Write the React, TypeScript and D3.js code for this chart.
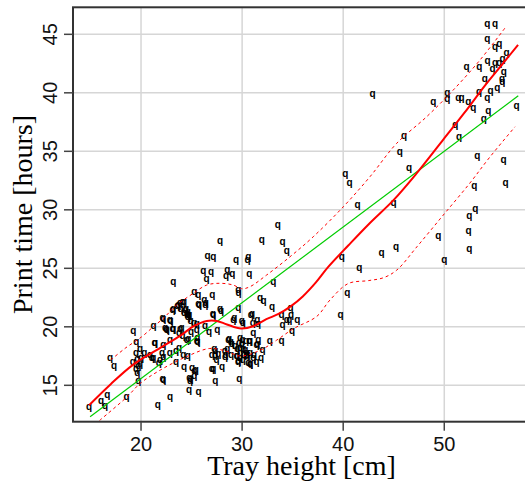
import { useEffect, useRef } from "react";
import * as d3 from "d3";

// tray height [cm] vs print time [hours]
const trayHeight = [
  14.86, 16.04, 16.44, 16.67, 16.93, 17.33, 18.58, 19.24, 19.54, 19.9, 19.51, 19.18, 19.74, 19.9, 19.51, 19.64,
  19.74, 20.33, 20.0, 19.64, 21.25, 21.35, 21.06, 22.14, 21.65, 22.14, 22.08, 21.88, 21.75, 22.37, 22.54, 22.84,
  22.87, 22.84, 22.21, 22.87, 23.2, 23.46, 23.69, 23.86, 24.25, 23.92, 24.35, 24.52, 24.78, 24.25, 24.45, 24.62,
  23.13, 23.86, 23.76, 23.76, 24.25, 24.52, 24.62, 24.75, 24.91, 24.78, 25.04, 25.41, 25.28, 25.28, 25.67, 25.7,
  24.95, 25.24, 25.51, 25.57, 25.6, 26.26, 26.36, 25.67, 25.74, 26.73, 27.06, 26.99, 27.15, 27.09, 27.35, 27.25,
  27.35, 27.32, 27.48, 28.01, 27.55, 27.81, 27.91, 28.28, 28.37, 28.64, 28.87, 28.97, 29.23, 29.13, 29.63, 29.66,
  29.63, 29.69, 29.59, 29.73, 29.53, 29.79, 29.96, 30.06, 29.79, 30.02, 30.12, 30.32, 30.45, 30.55, 30.39, 29.96,
  30.85, 30.98, 30.81, 30.72, 31.11, 31.05, 31.51, 31.57, 31.51, 31.77, 32.13, 31.87, 32.03, 32.73, 32.96, 33.09,
  33.91, 34.01, 33.91, 34.41, 34.8, 34.84, 34.67, 34.94, 35.46, 39.75, 40.41,
  26.4, 24.12, 23.59, 24.68, 24.62, 23.13, 24.91, 22.21, 22.93, 22.47, 23.2, 24.02, 25.51, 24.12, 24.68, 25.51,
  26.33, 27.15, 21.39, 22.21, 20.89, 21.22, 23.46, 24.19, 25.28, 24.85, 22.21, 28.7, 29.3, 29.53, 29.79, 28.54,
  28.9, 26.99, 27.65, 28.31, 29.46, 29.79, 30.19, 30.45, 30.78, 31.18, 29.63, 30.06, 30.62, 31.11, 30.78, 31.44,
  31.61, 30.78, 31.44,
  27.81, 26.59, 27.15, 29.4, 30.62, 30.55, 26.17, 26.93, 28.54, 29.03, 28.41, 30.72, 23.2, 26.49, 33.52, 31.94,
  34.01, 34.41,
  42.91, 48.92, 50.3, 50.3, 51.39, 51.72, 52.38, 52.87, 51.09, 51.45, 53.92, 54.36, 54.26, 57.16, 53.43, 54.58,
  55.24, 54.0, 55.71, 55.75, 55.9, 52.21, 53.46, 54.78, 54.29, 55.02, 55.44, 55.77, 56.17, 55.02, 55.44, 54.26,
  54.26, 55.02, 46.01, 45.61, 46.51, 40.21, 40.64, 41.43, 44.99, 53.27, 55.87, 56.07, 52.97, 53.07, 52.48, 52.41,
  52.48, 49.41, 50.0, 45.22, 43.8, 41.6, 39.85,
];
const printTime = [
  13.12, 13.58, 13.23, 14.15, 17.28, 16.57, 13.97, 19.56, 18.65, 18.08, 17.68, 16.99, 16.65, 16.82, 16.37, 16.03,
  15.31, 17.68, 17.25, 17.22, 20.01, 18.56, 17.28, 15.51, 13.26, 20.7, 17.68, 17.14, 16.88, 19.87, 19.67, 20.53,
  18.87, 17.76, 17.36, 13.95, 21.52, 16.94, 21.81, 22.01, 22.07, 21.5, 21.38, 21.07, 20.93, 21.15, 21.52, 21.21,
  19.81, 19.75, 18.16, 19.44, 16.54, 18.87, 17.45, 14.54, 15.46, 15.6, 16.45, 16.25, 15.74, 22.92, 22.64, 14.4,
  19.53, 20.3, 20.16, 18.96, 18.68, 22.24, 21.78, 21.95, 21.81, 19.5, 22.64, 16.31, 16.37, 21.01, 15.31, 18.08,
  17.93, 17.59, 17.14, 16.54, 19.7, 21.52, 21.35, 17.93, 17.56, 18.85, 18.7, 18.5, 20.73, 20.58, 23.09, 22.86,
  21.58, 18.59, 16.97, 15.51, 17.45, 17.76, 20.44, 20.3, 19.02, 18.87, 18.08, 17.96, 17.68, 17.59, 18.76, 18.45,
  20.93, 21.07, 16.82, 18.76, 19.44, 20.3, 20.53, 20.16, 18.45, 22.38, 22.15, 17.31, 17.99, 18.76, 21.67, 23.75,
  20.93, 20.1, 18.76, 20.53, 21.58, 20.98, 20.53, 19.64, 20.58, 20.98, 22.86,
  22.0, 22.06, 21.72, 21.0, 20.8, 21.43, 20.43, 20.66, 20.46, 19.78, 19.78, 19.87, 19.72, 19.15, 18.95, 18.73,
  20.01, 21.0, 18.59, 18.44, 17.59, 17.3, 17.93, 17.59, 16.17, 15.31, 15.45, 18.93, 18.3, 18.02, 18.16, 18.02,
  17.59, 17.59, 17.65, 17.36, 17.45, 17.3, 17.59, 17.45, 17.73, 17.59, 17.02, 17.1, 16.88, 17.3, 18.73, 18.44,
  18.87, 16.82, 16.93,
  27.28, 26.05, 25.93, 25.65, 25.93, 25.66, 24.77, 24.63, 24.8, 24.48, 24.29, 24.48, 23.8, 24.06, 28.65, 27.42,
  27.19, 26.48,
  39.87, 39.16, 39.96, 39.47, 39.53, 39.53, 39.16, 38.62, 37.22, 36.17, 37.68, 38.39, 39.53, 38.82, 40.01, 40.1,
  40.38, 41.1, 41.1, 40.9, 41.75, 42.18, 42.18, 42.01, 42.66, 42.52, 42.52, 42.81, 43.38, 43.86, 44.09, 44.52,
  45.88, 45.88, 36.28, 34.91, 33.49, 33.06, 32.21, 30.41, 30.5, 34.54, 34.2, 32.26, 31.98, 30.07, 29.42, 28.13,
  26.65, 27.76, 25.66, 26.77, 26.28, 25.0, 25.94,
];

// linear fit (green)
const lmX = [14.96, 57.32];
const lmY = [12.32, 39.75];

// smooth fit (red) and its band (dashed)
const smoothX = [14.86, 17.0, 19.2, 21.9, 23.9, 25.2, 26.5, 27.5, 28.5, 29.9, 31.1, 32.4, 33.6, 34.8, 36.0, 37.3, 38.5, 40.5, 42.5, 45.0, 47.2, 49.9, 52.0, 54.0, 55.7, 57.3];
const smoothY = [13.3, 15.1, 16.75, 18.2, 19.25, 20.05, 20.5, 20.5, 20.2, 19.85, 20.05, 20.65, 21.1, 21.75, 22.6, 23.8, 25.1, 26.95, 28.75, 30.85, 33.05, 36.0, 38.3, 40.6, 42.4, 44.1];
const upperX = [17.0, 18.42, 20.07, 21.22, 22.21, 23.53, 25.17, 26.5, 27.81, 29.13, 29.96, 30.78, 32.43, 34.74, 37.04, 40.01, 42.65, 45.29, 48.26, 50.89, 53.53, 56.1];
const upperY = [17.16, 18.16, 19.15, 20.01, 20.73, 21.86, 22.86, 23.57, 23.72, 23.57, 23.25, 23.43, 24.43, 25.99, 27.7, 30.26, 32.83, 35.68, 37.96, 40.24, 42.8, 45.65];
const lowerX = [15.9, 18.6, 19.9, 21.9, 24.5, 26.8, 28.5, 29.8, 31.8, 33.4, 35.1, 37.4, 38.7, 40.5, 42.5, 44.0, 45.3, 47.3, 49.9, 52.5, 54.5, 57.0];
const lowerY = [12.0, 14.0, 15.15, 16.3, 17.45, 18.15, 17.9, 17.5, 18.0, 18.85, 19.85, 20.9, 22.3, 23.7, 23.95, 24.2, 24.85, 26.85, 29.55, 32.25, 34.5, 37.1];

const xTicks = [20, 30, 40, 50];
const yTicks = [15, 20, 25, 30, 35, 40, 45];

export default function App() {
  const ref = useRef<SVGSVGElement>(null);

  useEffect(() => {
    const svg = d3.select(ref.current);
    svg.selectAll("*").remove();

    const left = 73, top = 7.3, right = 530, bottom = 421.7;
    const x = d3.scaleLinear().domain([13.27, 58.48]).range([left, right]);
    const y = d3.scaleLinear().domain([11.89, 47.31]).range([bottom, top]);

    // grid
    svg.append("g").selectAll("line").data(xTicks).enter().append("line")
      .attr("x1", d => x(d)).attr("x2", d => x(d))
      .attr("y1", top).attr("y2", bottom)
      .attr("stroke", "#d6d6d6").attr("stroke-width", 1.5);
    svg.append("g").selectAll("line").data(yTicks).enter().append("line")
      .attr("x1", left).attr("x2", right)
      .attr("y1", d => y(d)).attr("y2", d => y(d))
      .attr("stroke", "#d6d6d6").attr("stroke-width", 1.5);

    const line = d3.line<[number, number]>().x(d => x(d[0])).y(d => y(d[1]));
    const zip = (a: number[], b: number[]) => a.map((v, i) => [v, b[i]] as [number, number]);

    // points
    svg.append("g").selectAll("text").data(zip(trayHeight, printTime)).enter().append("text")
      .attr("x", d => x(d[0]))
      .attr("y", d => y(d[1]) + 2.5)
      .attr("text-anchor", "middle")
      .attr("font-family", "Liberation Sans, Arial, sans-serif")
      .attr("font-weight", "bold")
      .attr("font-size", 10)
      .attr("fill", "#000")
      .text("q");

    // band
    [zip(upperX, upperY), zip(lowerX, lowerY)].forEach(pts => {
      svg.append("path")
        .attr("d", line.curve(d3.curveCatmullRom.alpha(0.5))(pts))
        .attr("fill", "none")
        .attr("stroke", "#ff0000")
        .attr("stroke-width", 1)
        .attr("stroke-dasharray", "3,3");
    });

    // linear fit
    svg.append("path")
      .attr("d", line.curve(d3.curveLinear)(zip(lmX, lmY)))
      .attr("fill", "none")
      .attr("stroke", "#00cc00")
      .attr("stroke-width", 1.2);

    // smooth fit
    svg.append("path")
      .attr("d", line.curve(d3.curveCatmullRom.alpha(0.5))(zip(smoothX, smoothY)))
      .attr("fill", "none")
      .attr("stroke", "#ff0000")
      .attr("stroke-width", 2);

    // box
    svg.append("rect")
      .attr("x", left).attr("y", top)
      .attr("width", right - left).attr("height", bottom - top)
      .attr("fill", "none").attr("stroke", "#333").attr("stroke-width", 2);

    // x axis ticks + labels
    svg.append("g").selectAll("line").data(xTicks).enter().append("line")
      .attr("x1", d => x(d)).attr("x2", d => x(d))
      .attr("y1", bottom).attr("y2", bottom + 9)
      .attr("stroke", "#444").attr("stroke-width", 1.5);
    svg.append("g").selectAll("text").data(xTicks).enter().append("text")
      .attr("x", d => x(d)).attr("y", 451)
      .attr("text-anchor", "middle")
      .attr("font-family", "Liberation Sans, Arial, sans-serif")
      .attr("font-size", 20)
      .attr("fill", "#111")
      .text(d => d);

    // y axis ticks + labels
    svg.append("g").selectAll("line").data(yTicks).enter().append("line")
      .attr("x1", left - 9).attr("x2", left)
      .attr("y1", d => y(d)).attr("y2", d => y(d))
      .attr("stroke", "#444").attr("stroke-width", 1.5);
    svg.append("g").selectAll("text").data(yTicks).enter().append("text")
      .attr("transform", d => `translate(57,${y(d)}) rotate(-90)`)
      .attr("text-anchor", "middle")
      .attr("font-family", "Liberation Sans, Arial, sans-serif")
      .attr("font-size", 20)
      .attr("fill", "#111")
      .text(d => d);

    // axis titles
    svg.append("text")
      .attr("x", (left + right) / 2).attr("y", 475)
      .attr("text-anchor", "middle")
      .attr("font-family", "Liberation Serif, Times New Roman, serif")
      .attr("font-size", 28)
      .text("Tray height [cm]");
    svg.append("text")
      .attr("transform", `translate(32,${(top + bottom) / 2}) rotate(-90)`)
      .attr("text-anchor", "middle")
      .attr("font-family", "Liberation Serif, Times New Roman, serif")
      .attr("font-size", 28)
      .text("Print time [hours]");
  }, []);

  return (
    <svg
      ref={ref}
      width={525}
      height={482}
      style={{ position: "absolute", left: 0, top: 0, background: "#fff" }}
    />
  );
}
